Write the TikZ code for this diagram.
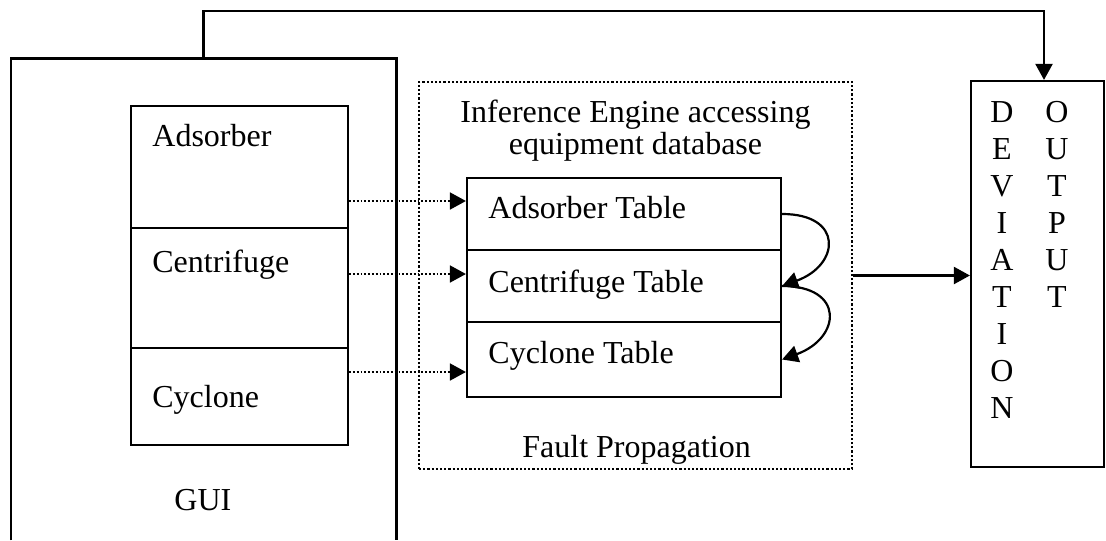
\documentclass[tikz,border=0pt]{standalone}
\usepackage{fontspec}
\setmainfont{Liberation Serif}
\usepackage{tikz}
\usetikzlibrary{arrows.meta}
\usetikzlibrary{positioning}
\tikzset{
    box/.style={draw, line width=1.1pt, inner sep=0pt},
    frame/.style={inner sep=0pt},
    edge line/.style={line width=1.1pt},
    txt/.style={anchor=base west, inner sep=0pt},
    letter/.style={inner sep=0pt},
    flow/.style={line width=1.1pt, -{Triangle[length=8pt,width=8.5pt]}},
    dotflow/.style={line width=0.9pt, densely dotted, -{Triangle[length=8pt,width=8.5pt]}}
}

\begin{document}
\begin{tikzpicture}[x=0.5pt, y=-0.5pt, font=\fontsize{16}{17}\selectfont]
        \useasboundingbox (0,0) rectangle (1106,540);
        % GUI
        \node[frame, minimum width=192.5pt, minimum height=240.5pt] (gui) at (203.5,299.5) {};
        \draw[edge line] (gui.south west) |- (gui.north east) -- (gui.south east);
        \node[box, minimum width=108.5pt, minimum height=61pt] (ads) at (239.5,167) {};
        \node[box, minimum width=108.5pt, minimum height=60pt] (cen) at (239.5,288) {};
        \node[box, minimum width=108.5pt, minimum height=48.5pt] (cyc) at (239.5,396.5) {};
        \node[txt] (adsName) at (152,146) {Adsorber};
        \node[txt] (cenName) at (152,272) {Centrifuge};
        \node[txt] (cycName) at (152,407) {Cyclone};
        \node[txt] (guiName) at (174,510) {GUI};
        % inference engine
        \node[box, densely dotted, line width=0.9pt, minimum width=216.5pt, minimum height=193.5pt] (engine) at (635.5,275.5) {};
        \node[anchor=north, align=center, inner sep=0pt, font=\fontsize{16}{14.2}\selectfont] (engName) at (635.5,100)
            {Inference Engine accessing\\equipment database};
        \node[box, minimum width=157pt, minimum height=36pt] (adsT) at (624,214) {};
        \node[box, minimum width=157pt, minimum height=36pt] (cenT) at (624,286) {};
        \node[box, minimum width=157pt, minimum height=37.5pt] (cycT) at (624,359.5) {};
        \node[txt] (adsTName) at (488,218) {Adsorber Table};
        \node[txt] (cenTName) at (488,292) {Centrifuge Table};
        \node[txt] (cycTName) at (488,363) {Cyclone Table};
        \node[txt] (faultName) at (522,457) {Fault Propagation};
        % output
        \node[box, minimum width=66.5pt, minimum height=193pt] (out) at (1037.5,274) {};
        \foreach \ch [count=\i from 0] in {D,E,V,I,A,T,I,O,N}
            \node[letter] (dev\i) at (1002,112+37*\i) {\ch};
        \foreach \ch [count=\i from 0] in {O,U,T,P,U,T}
            \node[letter] (outp\i) at (1057,112+37*\i) {\ch};
        % connectors
        \coordinate (inA) at ([yshift=6.5pt]adsT.west);
        \coordinate (inC) at ([yshift=6pt]cenT.west);
        \coordinate (inY) at ([yshift=-6.25pt]cycT.west);
        \draw[dotflow] (ads.east |- inA) -- (inA);
        \draw[dotflow] (cen.east |- inC) -- (inC);
        \draw[dotflow] (cyc.east |- inY) -- (inY);
        \draw[flow] (adsT.east) to[out=0, in=20, looseness=2.2] (cenT.east);
        \draw[flow] (cenT.east) to[out=0, in=20, looseness=2.2] (cycT.east);
        \draw[flow] (engine.east) -- (engine.east -| out.west);
        \coordinate (bend) at (1044,11);
        \draw[flow] (gui.north) |- (bend) -- (bend |- out.north);
    \end{tikzpicture}
\end{document}
